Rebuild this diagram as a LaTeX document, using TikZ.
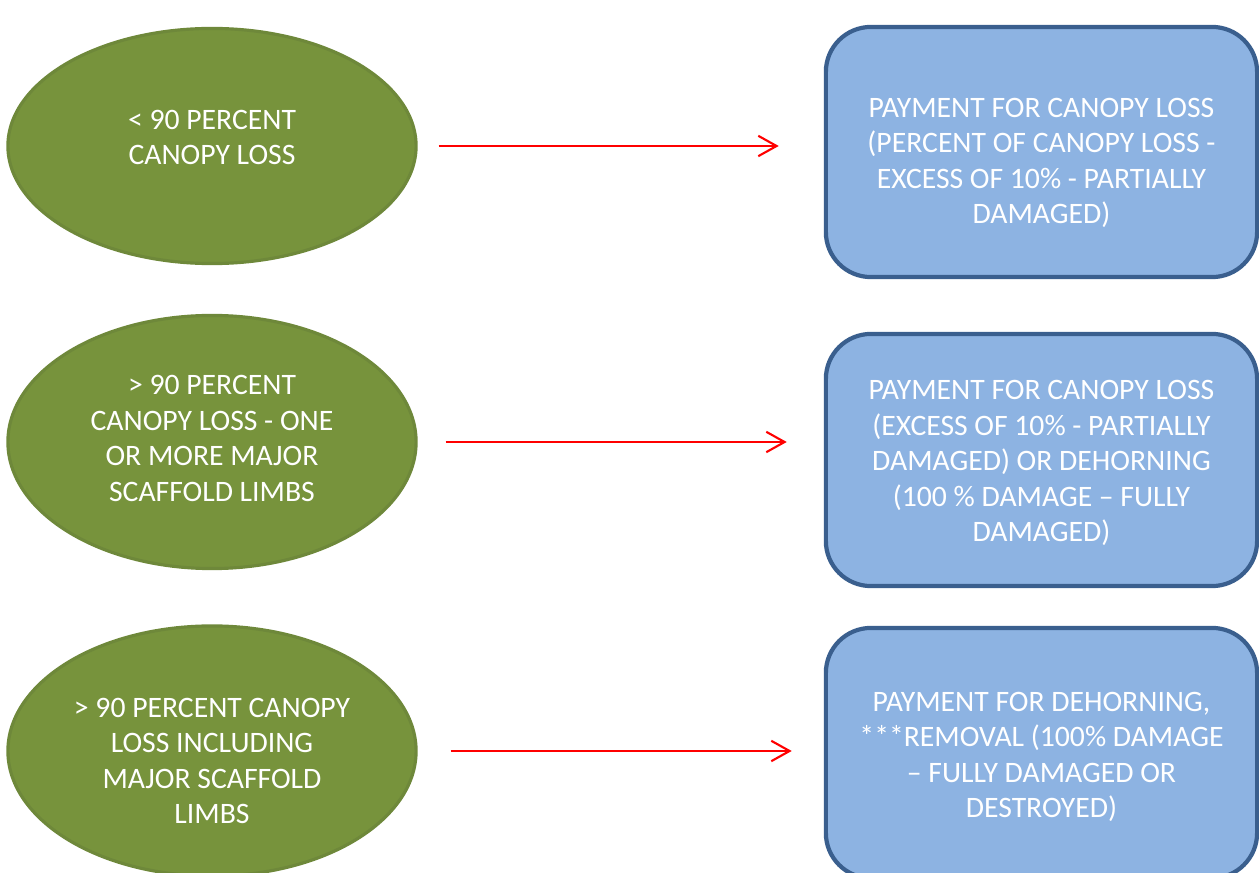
\documentclass[tikz,border=0pt]{standalone}
\usepackage{fontspec}
\setmainfont{Carlito}
\usetikzlibrary{shapes.geometric,arrows.meta}

\definecolor{leafgreen}{HTML}{77933C}
\definecolor{leafedge}{HTML}{6E883A}
\definecolor{payblue}{HTML}{8DB3E2}
\definecolor{payedge}{HTML}{3A5F8E}

% lines of a box, with extra room above (#1) and below (#2)
\newcommand{\cellstack}[3]{%
  \begin{tabular}{@{}c@{}}%
  \rule{0pt}{\dimexpr\ht\strutbox+#1\relax}#3\\[#2]%
  \end{tabular}}

\tikzset{
  lossnode/.style={ellipse, draw=leafedge, line width=0.9pt, fill=leafgreen,
    text=white, inner sep=0pt,
    minimum width=4.08cm, minimum height=2.5cm,
    font=\fontsize{8.44}{10.1}\selectfont},
  paynode/.style={rectangle, rounded corners=0.45cm, draw=payedge, line width=1.2pt,
    fill=payblue, text=white, inner sep=0pt,
    minimum width=4.31cm, minimum height=2.5cm,
    font=\fontsize{8.44}{10.1}\selectfont},
  payarrow/.style={red, line width=0.6pt, -{Straight Barb[length=5.2pt,width=5.8pt]}}
}

\begin{document}
\begin{tikzpicture}[x=0.01cm,y=-0.01cm]
\useasboundingbox (0,0) rectangle (1259,873);

\node [lossnode, minimum height=2.35cm] (e1) at (212,146) {\cellstack{0pt}{3.4pt}{< 90 PERCENT\\CANOPY LOSS}};
\node [lossnode, minimum height=2.53cm] (e2) at (212,442) {\cellstack{0pt}{0.6pt}{> 90 PERCENT\\CANOPY LOSS - ONE\\OR MORE MAJOR\\SCAFFOLD LIMBS}};
\node [lossnode] (e3) at (212,751) {\cellstack{7.1pt}{0pt}{> 90 PERCENT CANOPY\\LOSS INCLUDING\\MAJOR SCAFFOLD\\LIMBS}};

\node [paynode] (r1) at (1041.5,152) {\cellstack{6.5pt}{0pt}{PAYMENT FOR CANOPY LOSS\\(PERCENT OF CANOPY LOSS -\\EXCESS OF 10\% - PARTIALLY\\DAMAGED)}};
\node [paynode, minimum height=2.52cm] (r2) at (1041.5,460) {\cellstack{2pt}{0pt}{PAYMENT FOR CANOPY LOSS\\(EXCESS OF 10\% - PARTIALLY\\DAMAGED) OR DEHORNING\\(100 \% DAMAGE – FULLY\\DAMAGED)}};
\node [paynode] (r3) at (1041.5,753) {\cellstack{2.6pt}{0pt}{PAYMENT FOR DEHORNING,\\{}***REMOVAL (100\% DAMAGE\\– FULLY DAMAGED OR\\DESTROYED)}};

\draw [payarrow, shorten <=0.21cm, shorten >=0.45cm] (e1.east) -- (e1.east -| r1.west);
\draw [payarrow, shorten <=0.28cm, shorten >=0.37cm] (e2.east) -- (e2.east -| r2.west);
\draw [payarrow, shorten <=0.33cm, shorten >=0.32cm] (e3.east) -- (e3.east -| r3.west);

\end{tikzpicture}
\end{document}
